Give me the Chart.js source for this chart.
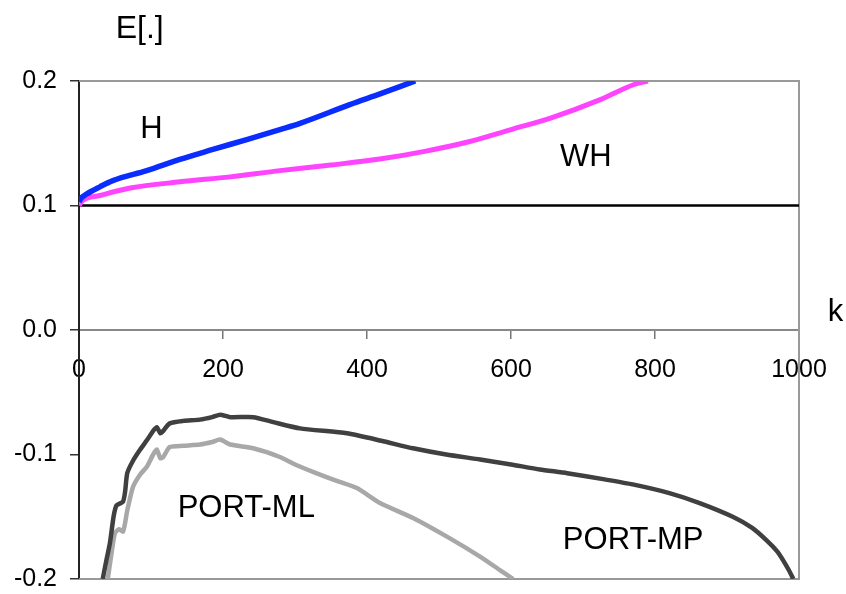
<!DOCTYPE html>
<html>
<head>
<meta charset="utf-8">
<script src="https://cdn.jsdelivr.net/npm/chart.js@4"></script>
<style>
    body{margin:0;background:#fff;}
    canvas{display:block;}
</style>
</head>
<body>
<canvas id="myChart" width="846" height="594"></canvas>
<script>
// =============================
// data
// =============================
const hK = [0, 3, 10, 29, 47, 94, 140, 186, 233, 279, 307, 376, 420, 467];
const hVal = [0.103, 0.106, 0.109, 0.115, 0.120, 0.128, 0.137, 0.145, 0.153, 0.161, 0.166, 0.181, 0.190, 0.200];

const whK = [0, 5, 29, 71, 140, 210, 279, 350, 420, 480, 540, 600, 654, 724, 770, 790];
const whVal = [0.100, 0.104, 0.108, 0.114, 0.119, 0.123, 0.128, 0.1325, 0.1375, 0.1435, 0.151, 0.161, 0.170, 0.185, 0.197, 0.200];

const mpK = [33, 38, 43, 48, 52, 61, 64, 67, 75, 85, 95, 103, 108, 113, 117, 126, 145, 168, 185, 196, 210, 242, 270, 307,
    372, 420, 464, 510, 557, 600, 640, 678, 730, 769, 820, 862, 908, 935, 955, 970, 978, 986, 992];
const mpVal = [-0.200, -0.185, -0.171, -0.150, -0.141, -0.138, -0.130, -0.115, -0.105, -0.096, -0.088, -0.081, -0.078, -0.083,
    -0.081, -0.075, -0.073, -0.072, -0.070, -0.068, -0.070, -0.070, -0.074, -0.079, -0.083, -0.089, -0.095, -0.100, -0.104,
    -0.108, -0.112, -0.115, -0.120, -0.124, -0.131, -0.139, -0.150, -0.159, -0.169, -0.178, -0.185, -0.193, -0.200];

const mlK = [40, 45, 50, 56, 61, 64, 67, 75, 85, 94, 103, 108, 113, 117, 126, 145, 168, 185, 196, 210, 242, 279, 300,
    325, 357, 386, 418, 464, 511, 557, 585, 603];
const mlVal = [-0.200, -0.180, -0.163, -0.160, -0.162, -0.155, -0.145, -0.126, -0.116, -0.110, -0.100, -0.096, -0.103,
    -0.102, -0.094, -0.093, -0.092, -0.090, -0.088, -0.092, -0.095, -0.102, -0.108, -0.114, -0.121, -0.127, -0.139,
    -0.151, -0.166, -0.182, -0.193, -0.200];

// the flat line at 0.1
const baseK = [0, 1000];
const baseVal = [0.1, 0.1];

const xTicks = [0, 200, 400, 600, 800, 1000];
const yTicks = [-0.2, -0.1, 0.0, 0.1, 0.2];

// text in the plot, placed in data units (k, value of baseline)
const labelText = ["H", "WH", "PORT-ML", "PORT-MP", "k", "E[.]"];
const labelK = [85, 668, 137, 672, 1040, 51];
const labelVal = [0.154, 0.132, -0.150, -0.176, 0.007, 0.2345];
const labelSize = [31, 31, 31, 31, 31, 32];

const FONT = "'Liberation Sans', Arial, Helvetica, sans-serif";

function pts(k, v){
    return k.map((x,i)=>({x:x, y:v[i]}));
}

// =============================
// plot frame + annotations
// =============================
const framePlugin = {
    id:"frame",
    beforeDatasetsDraw(chart){
        const a = chart.chartArea;
        const ctx = chart.ctx;
        ctx.save();
        ctx.strokeStyle = "#999";
        ctx.lineWidth = 2;
        ctx.beginPath();
        ctx.moveTo(a.left, a.top);
        ctx.lineTo(a.right, a.top);
        ctx.lineTo(a.right, a.bottom);
        ctx.lineTo(a.left, a.bottom);
        ctx.stroke();
        ctx.restore();
    },
    afterDraw(chart){
        const ctx = chart.ctx;
        const xs = chart.scales.x;
        const ys = chart.scales.y;
        ctx.save();
        ctx.fillStyle = "#000";
        ctx.textAlign = "left";
        ctx.textBaseline = "alphabetic";
        labelText.forEach((t,i)=>{
            ctx.font = labelSize[i] + "px " + FONT;
            ctx.fillText(t, xs.getPixelForValue(labelK[i]), ys.getPixelForValue(labelVal[i]));
        });
        ctx.restore();
    }
};

new Chart(document.getElementById("myChart"),{
    type:"line",
    data:{
        datasets:[
            {label:"H", data:pts(hK,hVal), borderColor:"#0a2cff", borderWidth:5.5, cubicInterpolationMode:"monotone"},
            {label:"WH", data:pts(whK,whVal), borderColor:"#ff44ff", borderWidth:5, cubicInterpolationMode:"monotone"},
            {label:"PORT-MP", data:pts(mpK,mpVal), borderColor:"#404040", borderWidth:4.5, tension:0.2},
            {label:"PORT-ML", data:pts(mlK,mlVal), borderColor:"#a8a8a8", borderWidth:4.5, tension:0.2},
            {label:"base", data:pts(baseK,baseVal), borderColor:"#000", borderWidth:2.5, tension:0}
        ]
    },
    options:{
        responsive:false,
        animation:false,
        events:[],
        elements:{point:{radius:0}},
        layout:{padding:{left:0, top:81, right:47, bottom:15}},
        plugins:{
            legend:{display:false},
            tooltip:{enabled:false}
        },
        scales:{
            x:{
                type:"linear",
                min:0,
                max:1000,
                position:{y:0},
                afterFit:(s)=>{ s.height = 0; },
                afterBuildTicks:(s)=>{ s.ticks = xTicks.map(v=>({value:v})); },
                ticks:{
                    font:{size:25, family:FONT},
                    color:"#000",
                    padding:17,
                    maxRotation:0,
                    autoSkip:false,
                    callback:(v)=> String(v)
                },
                grid:{drawOnChartArea:false, tickLength:8, color:"#777", lineWidth:1.5},
                border:{color:"#888", width:2}
            },
            y:{
                min:-0.2,
                max:0.2,
                // fixed width; labels may hang over top/bottom
                afterFit:(s)=>{ s.width = 79; s.paddingTop = 0; s.paddingBottom = 0; },
                afterBuildTicks:(s)=>{ s.ticks = yTicks.map(v=>({value:v})); },
                ticks:{
                    font:{size:25, family:FONT},
                    color:"#000",
                    padding:13,
                    callback:(v)=> Math.abs(v) < 1e-9 ? "0.0" : v.toFixed(1)
                },
                grid:{drawOnChartArea:false, tickLength:9, color:"#333", lineWidth:1.5},
                border:{color:"#222", width:2}
            }
        }
    },
    plugins:[framePlugin]
});
</script>
</body>
</html>
